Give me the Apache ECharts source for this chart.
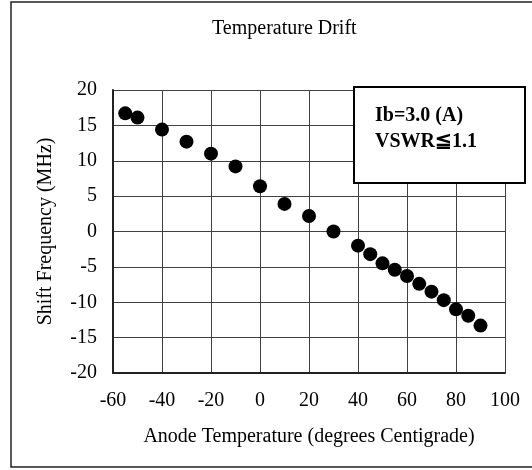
<!DOCTYPE html>
<html>
<head>
<meta charset="utf-8">
<script src="https://cdn.jsdelivr.net/npm/echarts@6/dist/echarts.min.js"></script>
<style>html,body{margin:0;padding:0;background:#fff}#c{width:532px;height:470px}</style>
</head>
<body>
<div id="c"></div>
<script>
const chartTitle = 'Temperature Drift';
const xName = 'Anode Temperature (degrees Centigrade)';
const yName = 'Shift Frequency (MHz)';
const noteLines = ['Ib=3.0 (A)', 'VSWR≦1.1'];
const temperature = [-55, -50, -40, -30, -20, -10, 0, 10, 20, 30, 40, 45, 50, 55, 60, 65, 70, 75, 80, 85, 90];
const shiftMHz = [16.7, 16.1, 14.4, 12.7, 11.0, 9.2, 6.4, 3.9, 2.2, 0.0, -2.0, -3.2, -4.5, -5.4, -6.3, -7.4, -8.5, -9.7, -11.0, -11.9, -13.3];
const xTicks = [-60, 100, 20];
const yTicks = [-20, 20, 5];

const serif = '"Liberation Serif", "Times New Roman", serif';
const chart = echarts.init(document.getElementById('c'));
chart.setOption({
  animation: false,
  backgroundColor: '#fff',
  title: {
    text: chartTitle, left: 207, top: 14,
    textStyle: { fontFamily: serif, fontSize: 20, fontWeight: 'normal', color: '#000' }
  },
  grid: { left: 113, top: 90, right: 27, bottom: 97 },
  xAxis: {
    type: 'value', min: xTicks[0], max: xTicks[1], interval: xTicks[2],
    name: xName, nameLocation: 'middle', nameGap: 54,
    nameTextStyle: { fontFamily: serif, fontSize: 20, color: '#000' },
    axisLine: { show: true, onZero: false, lineStyle: { color: '#222', width: 2 } },
    axisTick: { show: false },
    axisLabel: { fontFamily: serif, fontSize: 20, color: '#000', margin: 18 },
    splitLine: { show: true, lineStyle: { color: '#404040', width: 1 } }
  },
  yAxis: {
    type: 'value', min: yTicks[0], max: yTicks[1], interval: yTicks[2],
    name: yName, nameLocation: 'middle', nameGap: 57,
    nameTextStyle: { fontFamily: serif, fontSize: 20, color: '#000' },
    axisLine: { show: true, onZero: false, lineStyle: { color: '#222', width: 2 } },
    axisTick: { show: false },
    axisLabel: { fontFamily: serif, fontSize: 20, color: '#000', margin: 16 },
    splitLine: { show: true, lineStyle: { color: '#404040', width: 1 } }
  },
  series: [{
    type: 'scatter',
    data: temperature.map((t, i) => [t, shiftMHz[i]]),
    symbol: 'circle', symbolSize: 14,
    itemStyle: { color: '#000', opacity: 1 }
  }],
  graphic: [
    { type: 'rect', z: 0, silent: true,
      shape: { x: 11, y: 2, width: 600, height: 465 },
      style: { fill: 'none', stroke: '#222', lineWidth: 1.5 } },
    { type: 'rect', z: 100, zlevel: 0, shape: { x: 354, y: 87, width: 171, height: 96 },
      style: { fill: '#fff', stroke: '#000', lineWidth: 2 } },
    { type: 'text', z: 101, x: 375, y: 106,
      style: { text: noteLines[0], font: 'bold 20px ' + serif, fill: '#000' } },
    { type: 'text', z: 101, x: 375, y: 132,
      style: { text: noteLines[1], font: 'bold 20px ' + serif, fill: '#000' } }
  ]
});
</script>
</body>
</html>
